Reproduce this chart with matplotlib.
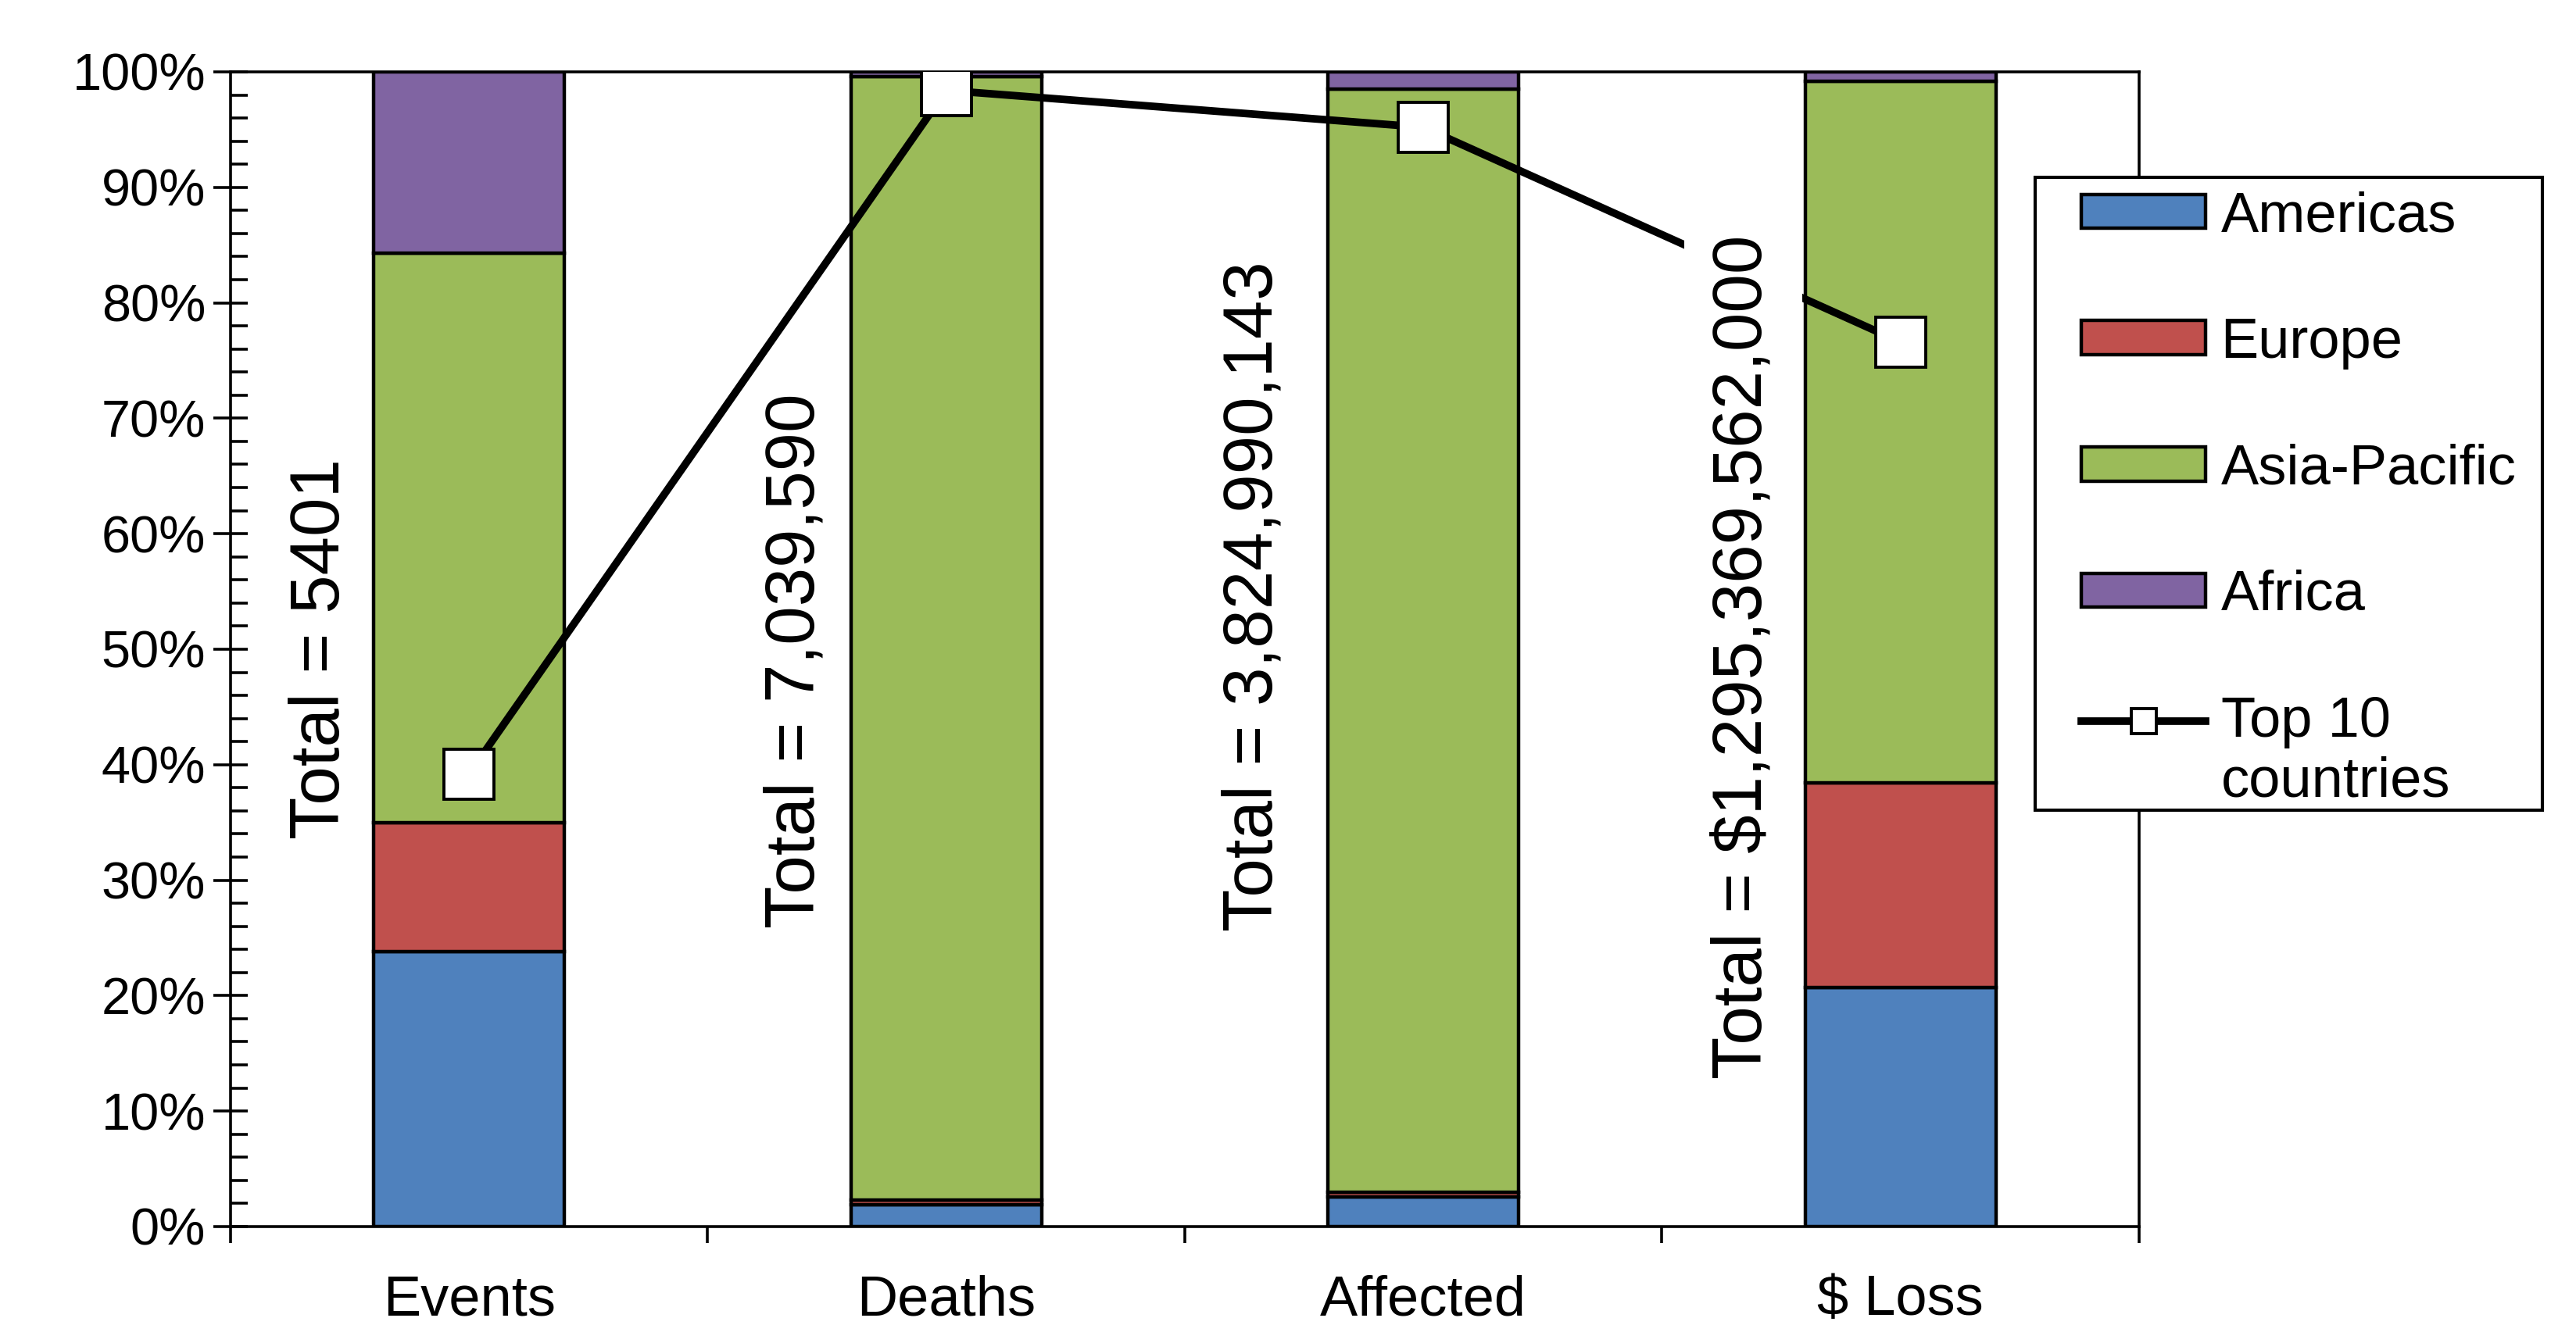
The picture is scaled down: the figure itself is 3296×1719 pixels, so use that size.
import numpy as np
import matplotlib
matplotlib.use("Agg")
import matplotlib.pyplot as plt
from matplotlib.patches import Rectangle
from matplotlib.legend_handler import HandlerLine2D
from matplotlib.ticker import MultipleLocator, PercentFormatter

plt.rcParams['font.family'] = ['Liberation Sans', 'DejaVu Sans']

# datos (porcentaje de cada region por categoria)
categorias = ["Events", "Deaths", "Affected", "$ Loss"]
regiones = ["Americas", "Europe", "Asia-Pacific", "Africa"]
americas = [23.8, 1.9, 2.6, 20.7]
europe = [11.2, 0.4, 0.4, 17.7]
asia_pacific = [49.3, 97.3, 95.5, 60.8]
africa = [15.7, 0.4, 1.5, 0.8]
top10 = [39.2, 98.4, 95.2, 76.6]
totales = ["Total = 5401", "Total = 7,039,590", "Total = 3,824,990,143",
           "Total = $1,295,369,562,000"]
colores = ["#4F81BD", "#C0504D", "#9BBB59", "#8064A2"]


class ManejadorArriba(HandlerLine2D):
    # sube el simbolo de la linea a la altura de la primera linea del texto
    def create_artists(self, legend, orig_handle, xdescent, ydescent,
                       width, height, fontsize, trans):
        return super().create_artists(legend, orig_handle, xdescent,
                                      ydescent - 30, width, height,
                                      fontsize, trans)


fig = plt.figure(figsize=(16.48, 8.595), dpi=200)
ax = fig.add_axes([0.0895, 0.0867, 0.7409, 0.8598])

x = np.arange(len(categorias))
abajo = np.zeros(len(categorias))
for nombre, vals, col in zip(regiones, [americas, europe, asia_pacific, africa], colores):
    ax.bar(x, vals, 0.4, bottom=abajo, color=col, edgecolor="black",
           linewidth=1.6, label=nombre, zorder=2)
    abajo += np.array(vals)

linea, = ax.plot(x, top10, color="black", linewidth=3.5, marker="s", markersize=23,
                 markerfacecolor="white", markeredgecolor="black", markeredgewidth=1.4,
                 label="Top 10\ncountries", zorder=3)

# etiquetas de totales (rotadas, con fondo blanco que tapa la linea)
pos_x = [-0.31, 0.685, 1.645, 2.67]
pos_y = [50.0, 49.0, 54.6, 49.3]
pads = [4, 4, 4, 12]
for px, py, t, pd in zip(pos_x, pos_y, totales, pads):
    ax.text(px, py, t, rotation=90, ha="center", va="center", fontsize=32,
            zorder=4, bbox=dict(facecolor="white", edgecolor="none", pad=pd))

ax.set_xlim(-0.5, 3.5)
ax.set_ylim(0, 100)

# ejes
ax.yaxis.set_major_locator(MultipleLocator(10))
ax.yaxis.set_minor_locator(MultipleLocator(2))
ax.yaxis.set_major_formatter(PercentFormatter(decimals=0))
ax.tick_params(axis="y", which="major", direction="inout", length=15.8,
               width=1.3, pad=3.6, labelsize=24)
ax.tick_params(axis="y", which="minor", direction="in", length=7.9, width=1.3)

ax.set_xticks(np.arange(-0.5, 4, 1))
ax.set_xticklabels([])
ax.set_xticks(x, minor=True)
ax.set_xticklabels(categorias, minor=True)
ax.tick_params(axis="x", which="major", direction="out", length=7.5, width=1.3)
ax.tick_params(axis="x", which="minor", length=0, pad=22, labelsize=26)

for s in ax.spines.values():
    s.set_linewidth(1.3)

# leyenda: regiones primero, la linea al final; el marco se dibuja aparte
handles, labels = ax.get_legend_handles_labels()
orden = [1, 2, 3, 4, 0]
leg = ax.legend([handles[i] for i in orden], [labels[i] for i in orden],
                loc="upper left", bbox_to_anchor=(0.808, 0.858),
                bbox_transform=fig.transFigure, fontsize=26, frameon=False,
                handlelength=2.2, handleheight=0.55, handletextpad=0.27,
                labelspacing=1.31, borderpad=0, borderaxespad=0, markerscale=0.5,
                handler_map={linea: ManejadorArriba()})
leg.set_zorder(6)
marco = Rectangle((0.790, 0.397), 0.197, 0.471, transform=fig.transFigure,
                  facecolor="white", edgecolor="black", linewidth=1.5,
                  zorder=5, clip_on=False)
ax.add_patch(marco)

fig.savefig("out.png", dpi=200)
